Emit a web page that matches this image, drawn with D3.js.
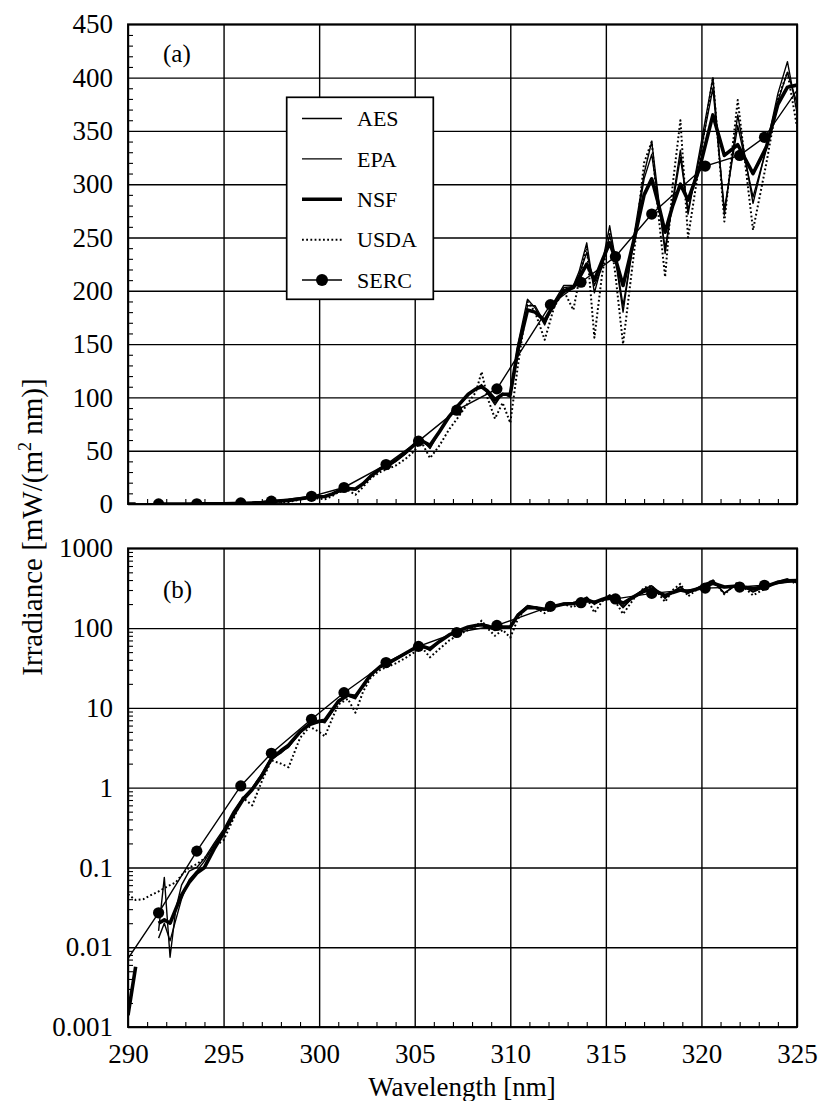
<!DOCTYPE html>
<html>
<head>
<meta charset="utf-8">
<script src="https://cdn.jsdelivr.net/npm/d3@7"></script>
<style>
  body { margin: 0; background: #fff; }
  text { font-family: "Liberation Serif", "Times New Roman", serif; fill: #000; }
</style>
</head>
<body>
<svg id="chart" width="819" height="1101"></svg>
<script>
// wavelength grid (nm) shared by the four spectra
const wavelengths = [290, 290.4, 290.8, 291.2, 291.6, 291.9, 292.2, 292.5, 292.8, 293.2,
  293.6, 294, 294.5, 295, 295.5, 296, 296.5, 297, 297.5, 298,
  298.4, 299, 299.5, 300, 300.3, 300.7, 301, 301.5, 301.9, 302.3,
  302.7, 303.2, 303.6, 304, 304.5, 305, 305.3, 305.8, 306.3, 306.8,
  307.3, 307.8, 308.2, 308.5, 308.8, 309.2, 309.6, 310, 310.4, 310.9,
  311.3, 311.8, 312.3, 312.8, 313.3, 313.6, 314, 314.4, 314.8, 315.2,
  315.5, 315.9, 316.5, 317, 317.4, 317.7, 318.1, 318.5, 318.9, 319.3,
  319.9, 320.6, 321.2, 321.9, 322.7, 323.4, 324, 324.5, 325];

const aes = [null, null, null, null, 0.016, 0.075, 0.0075, 0.03, 0.06, 0.09,
  0.1, 0.13, 0.2, 0.3, 0.5, 0.75, 1.0, 1.5, 2.4, 2.8,
  3.2, 5.0, 6.5, 6.8, 6.5, 9, 12, 14, 13, 19,
  26, 33, 36, 40, 47, 56, 62, 52, 68, 82,
  92, 102, 108, 112, 104, 93, 104, 100, 150, 192,
  184, 168, 190, 205, 205, 218, 245, 198, 225, 261,
  230, 180, 255, 310, 340, 295, 235, 285, 332, 272,
  330, 400, 271, 365, 282, 335, 385, 415, 367];

const epa = [null, null, null, null, 0.013, 0.02, 0.012, 0.022, 0.04, 0.07,
  0.09, 0.12, 0.19, 0.28, 0.48, 0.72, 0.95, 1.45, 2.3, 2.7,
  3.3, 4.8, 6.3, 6.6, 6.8, 9.2, 12.5, 14.5, 13.5, 19.5,
  27, 33, 36, 41, 47, 57, 60, 54, 69, 83,
  93, 103, 108, 110, 105, 95, 103, 101, 140, 186,
  186, 170, 188, 203, 204, 215, 236, 205, 222, 252,
  232, 186, 250, 305, 328, 290, 240, 282, 325, 276,
  325, 390, 276, 355, 288, 333, 378, 405, 376];

const nsf = [0.0014, 0.0057, null, null, 0.02, 0.022, 0.02, 0.03, 0.045, 0.065,
  0.085, 0.1, 0.17, 0.27, 0.45, 0.7, 0.95, 1.4, 2.3, 2.9,
  3.4, 5.0, 6.2, 6.8, 7.0, 9.5, 12, 14.5, 14, 19,
  26, 33, 36, 41, 48, 56, 60, 55, 68, 82,
  93, 103, 108, 110, 106, 98, 103, 103, 145, 182,
  180, 172, 188, 200, 203, 212, 225, 210, 228, 245,
  230, 205, 250, 290, 305, 285, 255, 280, 300, 285,
  315, 365, 327, 337, 310, 335, 375, 391, 393];

const usda = [0.046, 0.039, 0.04, 0.045, 0.05, 0.055, 0.06, 0.065, 0.08, 0.1,
  0.11, 0.13, 0.18, 0.22, 0.4, 0.75, 0.6, 1.2, 2.2, 2.0,
  1.8, 4.2, 5.8, 5.0, 4.4, 7.5, 11, 13, 8.7, 16,
  24, 30, 33, 36, 42, 50, 60, 43, 55, 70,
  82, 95, 105, 124, 100, 80, 95, 76, 130, 190,
  180, 154, 185, 200, 182, 210, 242, 156, 215, 255,
  215, 150, 240, 320, 340, 280, 213, 300, 360, 250,
  320, 400, 265, 379, 257, 320, 380, 405, 354];

// SERC: line runs to the panel edges, markers only at measured points
const sercWl = [290, 291.6, 293.6, 295.9, 297.5, 299.6, 301.3, 303.5, 305.2, 307.2,
  309.3, 312.1, 313.7, 315.5, 317.4, 320.2, 322.0, 323.3, 325];
const sercVal = [0.0072, 0.027, 0.16, 1.05, 2.7, 7.2, 15.5, 37, 59, 88,
  108, 187, 208, 232, 272, 317, 327, 344, 388];

const xTicks = [290, 295, 300, 305, 310, 315, 320, 325];
const linTicks = [0, 50, 100, 150, 200, 250, 300, 350, 400, 450];
const logTicks = [0.001, 0.01, 0.1, 1, 10, 100, 1000];
const logLabels = ['0.001', '0.01', '0.1', '1', '10', '100', '1000'];
const legendNames = ['AES', 'EPA', 'NSF', 'USDA', 'SERC'];

const svg = d3.select('#chart');
const left = 128, right = 797;

const x = d3.scaleLinear().domain([290, 325]).range([left, right]);
const yLin = d3.scaleLinear().domain([0, 450]).range([504, 24.3]);
const yLog = d3.scaleLog().domain([0.001, 1000]).range([1027, 548.3]);

const styles = {
  AES: { width: 1.4 },
  EPA: { width: 1.4 },
  NSF: { width: 3.6 },
  USDA: { width: 2, dash: '1.8,2.4' },
  SERC: { width: 1.4 }
};

const spectra = [
  { name: 'USDA', vals: usda },
  { name: 'AES', vals: aes },
  { name: 'EPA', vals: epa },
  { name: 'NSF', vals: nsf }
];

const xMinor = d3.range(291, 325, 1).filter(d => d % 5 !== 0);

function panel(y, id, isLog) {
  const [yb, yt] = y.range();
  const g = svg.append('g');

  g.append('clipPath').attr('id', id)
    .append('rect').attr('x', left).attr('y', yt).attr('width', right - left).attr('height', yb - yt);

  // grid lines
  g.append('g').attr('transform', `translate(0,${yb})`)
    .call(d3.axisBottom(x).tickValues(xTicks).tickSize(-(yb - yt)).tickFormat(''))
    .call(s => s.select('.domain').remove())
    .selectAll('line').attr('stroke-width', 1.4);

  const yMajor = isLog ? logTicks : linTicks;
  g.append('g').attr('transform', `translate(${left},0)`)
    .call(d3.axisLeft(y).tickValues(yMajor).tickSize(-(right - left)).tickFormat(''))
    .call(s => s.select('.domain').remove())
    .selectAll('line').attr('stroke-width', 1.4);

  // minor ticks
  let yMinor;
  if (isLog) {
    yMinor = [];
    logTicks.slice(0, -1).forEach(t => { for (let k = 2; k < 10; k++) yMinor.push(t * k); });
  } else {
    yMinor = d3.range(10, 450, 10).filter(d => d % 50 !== 0);
  }
  g.append('g').attr('transform', `translate(${left},0)`)
    .call(d3.axisLeft(y).tickValues(yMinor).tickSize(-5).tickFormat(''))
    .call(s => s.select('.domain').remove())
    .selectAll('line').attr('stroke-width', 1.1);

  g.append('g').attr('transform', `translate(0,${yb})`)
    .call(d3.axisBottom(x).tickValues(xMinor).tickSize(-5).tickFormat(''))
    .call(s => s.select('.domain').remove())
    .selectAll('line').attr('stroke-width', 1.1);

  // y labels
  const yAxis = d3.axisLeft(y).tickValues(yMajor).tickSize(0).tickPadding(15);
  if (isLog) yAxis.tickFormat((d, i) => logLabels[i]);
  else yAxis.tickFormat(d3.format('d'));
  g.append('g').attr('transform', `translate(${left},0)`)
    .call(yAxis)
    .call(s => s.select('.domain').remove())
    .selectAll('text')
    .attr('font-size', 27)
    .style('font-family', '"Liberation Serif", serif');

  // data
  const plot = g.append('g').attr('clip-path', `url(#${id})`);
  const line = d3.line()
    .defined(d => d.v != null && d.v > 0)
    .x(d => x(d.w))
    .y(d => y(d.v));

  spectra.forEach(s => {
    const st = styles[s.name];
    plot.append('path')
      .datum(wavelengths.map((w, i) => ({ w, v: s.vals[i] })))
      .attr('d', line)
      .attr('fill', 'none')
      .attr('stroke', '#000')
      .attr('stroke-width', st.width)
      .attr('stroke-linejoin', 'round')
      .attr('stroke-dasharray', st.dash || null);
  });

  const serc = sercWl.map((w, i) => ({ w, v: sercVal[i] }));
  plot.append('path')
    .datum(serc)
    .attr('d', line)
    .attr('fill', 'none')
    .attr('stroke', '#000')
    .attr('stroke-width', styles.SERC.width);

  plot.selectAll('circle')
    .data(serc.slice(1, -1))
    .enter()
    .append('circle')
    .attr('cx', d => x(d.w))
    .attr('cy', d => y(d.v))
    .attr('r', 5.6)
    .attr('fill', '#000');

  // frame
  g.append('rect')
    .attr('x', left).attr('y', yt)
    .attr('width', right - left).attr('height', yb - yt)
    .attr('fill', 'none').attr('stroke', '#000').attr('stroke-width', 1.9);
}

panel(yLin, 'clipA', false);
panel(yLog, 'clipB', true);

// x labels under the bottom panel
svg.append('g').attr('transform', `translate(0,${yLog.range()[0]})`)
  .call(d3.axisBottom(x).tickValues(xTicks).tickSize(0).tickPadding(17).tickFormat(d3.format('d')))
  .call(s => s.select('.domain').remove())
  .selectAll('text')
  .attr('font-size', 27)
  .style('font-family', '"Liberation Serif", serif');

// panel tags
svg.append('text').attr('x', 163).attr('y', 61.5).attr('font-size', 25).text('(a)');
svg.append('text').attr('x', 163).attr('y', 598).attr('font-size', 25).text('(b)');

// axis titles
svg.append('text')
  .attr('x', 462).attr('y', 1096)
  .attr('text-anchor', 'middle')
  .attr('font-size', 27)
  .text('Wavelength [nm]');

const yTitle = svg.append('text')
  .attr('transform', 'translate(42,527) rotate(-90)')
  .attr('text-anchor', 'middle')
  .attr('font-size', 29);
yTitle.append('tspan').text('Irradiance [mW/(m');
yTitle.append('tspan').attr('font-size', 18).attr('dy', -11).text('2');
yTitle.append('tspan').attr('dy', 11).text(' nm)]');

// legend
const lg = svg.append('g');
lg.append('rect')
  .attr('x', 286.7).attr('y', 97.3)
  .attr('width', 146.6).attr('height', 202)
  .attr('fill', '#fff').attr('stroke', '#000').attr('stroke-width', 1.7);

const legendY = d3.scalePoint().domain(legendNames).range([118.5, 280]);
legendNames.forEach(name => {
  const st = styles[name];
  const cy = legendY(name);
  lg.append('line')
    .attr('x1', 302).attr('x2', 342)
    .attr('y1', cy).attr('y2', cy)
    .attr('stroke', '#000')
    .attr('stroke-width', st.width)
    .attr('stroke-dasharray', st.dash || null);
  if (name === 'SERC') {
    lg.append('circle').attr('cx', 322).attr('cy', cy).attr('r', 6).attr('fill', '#000');
  }
  lg.append('text')
    .attr('x', 357).attr('y', cy + 7.7)
    .attr('font-size', 22)
    .text(name);
});
</script>
</body>
</html>
